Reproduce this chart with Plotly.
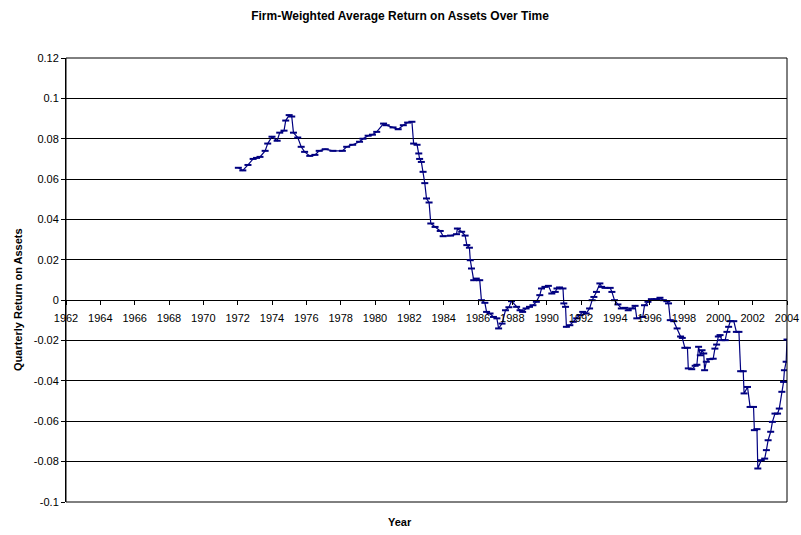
import plotly.graph_objects as go

years = [
    1972.04, 1972.3, 1972.6, 1972.9, 1973.1, 1973.3, 1973.6, 1973.75, 1974.0, 1974.3,
    1974.45, 1974.7, 1974.8, 1975.0, 1975.15, 1975.25, 1975.5, 1975.7, 1975.9, 1976.2,
    1976.5, 1976.75, 1977.1, 1977.55, 1978.1, 1978.35, 1978.7, 1979.1, 1979.3, 1979.6,
    1979.85, 1980.1, 1980.5, 1980.65, 1981.05, 1981.35, 1981.65, 1981.9, 1982.15, 1982.25,
    1982.45, 1982.55, 1982.6, 1982.7, 1982.8, 1982.9, 1983.0, 1983.15, 1983.25, 1983.5,
    1983.8, 1983.97, 1984.4, 1984.75, 1984.8, 1985.05, 1985.25, 1985.35, 1985.5, 1985.55,
    1985.62, 1985.75, 1985.9, 1986.1, 1986.2, 1986.4, 1986.5, 1986.7, 1986.9, 1987.1,
    1987.2, 1987.4, 1987.6, 1987.8, 1987.95, 1988.25, 1988.45, 1988.6, 1988.8, 1989.0,
    1989.2, 1989.4, 1989.6, 1989.7, 1989.9, 1990.1, 1990.3, 1990.5, 1990.6, 1990.75,
    1990.95, 1991.0, 1991.1, 1991.15, 1991.35, 1991.55, 1991.75, 1991.95, 1992.1, 1992.3,
    1992.5, 1992.65, 1992.75, 1992.9, 1993.1, 1993.2, 1993.4, 1993.7, 1993.8, 1993.95,
    1994.15, 1994.35, 1994.55, 1994.75, 1994.95, 1995.15, 1995.25, 1995.6, 1995.7, 1995.9,
    1996.1, 1996.4, 1996.6, 1996.8, 1997.0, 1997.1, 1997.2, 1997.4, 1997.6, 1997.8,
    1997.9, 1998.05, 1998.2, 1998.25, 1998.45, 1998.65, 1998.75, 1998.85, 1998.95, 1999.05,
    1999.15, 1999.2, 1999.3, 1999.5, 1999.7, 1999.8, 1999.9, 2000.0, 2000.1, 2000.2,
    2000.4, 2000.5, 2000.6, 2000.7, 2000.9, 2001.05, 2001.2, 2001.3, 2001.45, 2001.5,
    2001.7, 2001.85, 2002.05, 2002.1, 2002.25, 2002.3, 2002.5, 2002.7, 2002.8, 2002.9,
    2003.05, 2003.15, 2003.3, 2003.45, 2003.55, 2003.7, 2003.8, 2003.85, 2003.95, 2004.0,
]

# Firm-weighted average quarterly return on assets
roa = [
    0.0656, 0.0643, 0.067, 0.070, 0.0705, 0.071, 0.074, 0.0776, 0.081, 0.079,
    0.083, 0.084, 0.089, 0.0917, 0.091, 0.083, 0.0806, 0.076, 0.0735, 0.0715,
    0.072, 0.074, 0.0748, 0.074, 0.074, 0.076, 0.077, 0.0785, 0.080, 0.0815,
    0.082, 0.0834, 0.0875, 0.0867, 0.0856, 0.0847, 0.0867, 0.088, 0.0884, 0.0776,
    0.077, 0.0727, 0.070, 0.0685, 0.0636, 0.058, 0.0504, 0.0484, 0.038, 0.0363,
    0.0343, 0.0317, 0.032, 0.0327, 0.0355, 0.0339, 0.032, 0.0273, 0.026, 0.0198,
    0.0157, 0.0099, 0.0107, 0.0099, 0.0, -0.0013, -0.0058, -0.0066, -0.0083, -0.009,
    -0.014, -0.0116, -0.005, -0.0035, -0.0005, -0.0033, -0.005, -0.0058, -0.0041, -0.0033,
    -0.0025, -0.0008, 0.0025, 0.0058, 0.0066, 0.0071, 0.0033, 0.0041, 0.0058, 0.0063,
    0.0058, -0.0016, -0.0033, -0.0132, -0.0124, -0.0107, -0.009, -0.0074, -0.0058, -0.0066,
    -0.0041, 0.0, 0.0016, 0.0041, 0.0083, 0.0066, 0.0061, 0.0061, 0.0041, 0.0,
    -0.0021, -0.0041, -0.0038, -0.005, -0.0041, -0.0028, -0.009, -0.0083, -0.0025, -0.0008,
    0.0005, 0.0005, 0.0012, 0.0, -0.0005, -0.0016, -0.0099, -0.0104, -0.014, -0.018,
    -0.0187, -0.0236, -0.0236, -0.0338, -0.0342, -0.0325, -0.032, -0.0231, -0.0273, -0.0248,
    -0.0264, -0.0347, -0.0305, -0.0292, -0.029, -0.024, -0.022, -0.018, -0.0173, -0.0198,
    -0.0198, -0.0157, -0.0132, -0.0104, -0.0104, -0.0157, -0.0157, -0.0352, -0.0352, -0.0462,
    -0.043, -0.0529, -0.0529, -0.0644, -0.0639, -0.0834, -0.0793, -0.0785, -0.0743, -0.0694,
    -0.0652, -0.0603, -0.0562, -0.0562, -0.0537, -0.0454, -0.0405, -0.0347, -0.0305, -0.0195,
]

y_tick_values = [0.12, 0.1, 0.08, 0.06, 0.04, 0.02, 0, -0.02, -0.04, -0.06, -0.08, -0.1]
y_tick_labels = ["0.12", "0.1", "0.08", "0.06", "0.04", "0.02", "0",
                 "-0.02", "-0.04", "-0.06", "-0.08", "-0.1"]
x_tick_values = list(range(1962, 2005, 2))
x_tick_labels = [str(v) for v in x_tick_values]

FONT = "Liberation Sans, Arial, sans-serif"
NAVY = "#000080"

W, H = 801, 535
L, R, T, B = 66, 14, 58, 33
plot_w = W - L - R
plot_h = H - T - B

fig = go.Figure()
fig.add_trace(go.Scatter(
    x=years, y=roa, mode="lines+markers",
    line=dict(color=NAVY, width=1.2),
    marker=dict(symbol="line-ew", size=5, color=NAVY,
                line=dict(color=NAVY, width=2)),
    showlegend=False, hoverinfo="skip",
))

y_min, y_max = -0.1, 0.12
fig.update_layout(
    width=W, height=H,
    margin=dict(l=L, r=R, t=T, b=B, autoexpand=False),
    paper_bgcolor="white", plot_bgcolor="white",
    font=dict(family=FONT, size=11, color="black"),
    title=dict(text="<b>Firm-Weighted Average Return on Assets Over Time</b>",
               x=400 / W, xanchor="center", y=1 - 16 / H, yanchor="middle",
               font=dict(family=FONT, size=12, color="black")),
    xaxis=dict(
        range=[1962, 2004], tickvals=x_tick_values, ticktext=x_tick_labels,
        anchor="free", position=(0 - y_min) / (y_max - y_min),
        showgrid=False, zeroline=False,
        showline=True, linecolor="black", linewidth=1,
        ticks="outside", ticklen=4, tickcolor="black", ticklabelstandoff=4,
        ticklabeloverflow="allow",
        tickfont=dict(family=FONT, size=11, color="black"),
        automargin=False,
    ),
    yaxis=dict(
        range=[y_min, y_max], tickvals=y_tick_values, ticktext=y_tick_labels,
        showgrid=True, gridcolor="black", gridwidth=1, zeroline=False,
        showline=True, linecolor="black", linewidth=1,
        ticks="outside", ticklen=4, tickcolor="black",
        tickfont=dict(family=FONT, size=11, color="black"),
        automargin=False,
    ),
    shapes=[dict(type="rect", xref="paper", yref="paper", x0=0, y0=0, x1=1, y1=1,
                 line=dict(color="black", width=1), layer="above")],
    annotations=[
        dict(text="<b>Year</b>", xref="paper", yref="paper",
             x=(400 - L) / plot_w, y=-(522 - 502) / plot_h,
             xanchor="center", yanchor="middle", showarrow=False,
             font=dict(family=FONT, size=11, color="black")),
        dict(text="<b>Quarterly Return on Assets</b>", xref="paper", yref="paper",
             x=-(L - 18) / plot_w, y=(502 - 300) / plot_h, textangle=-90,
             xanchor="center", yanchor="middle", showarrow=False,
             font=dict(family=FONT, size=11, color="black")),
    ],
)

fig.write_html(
    "out.html",
    config={"displayModeBar": False},
    post_script="document.body.style.margin='0';document.body.style.overflow='hidden';",
)
